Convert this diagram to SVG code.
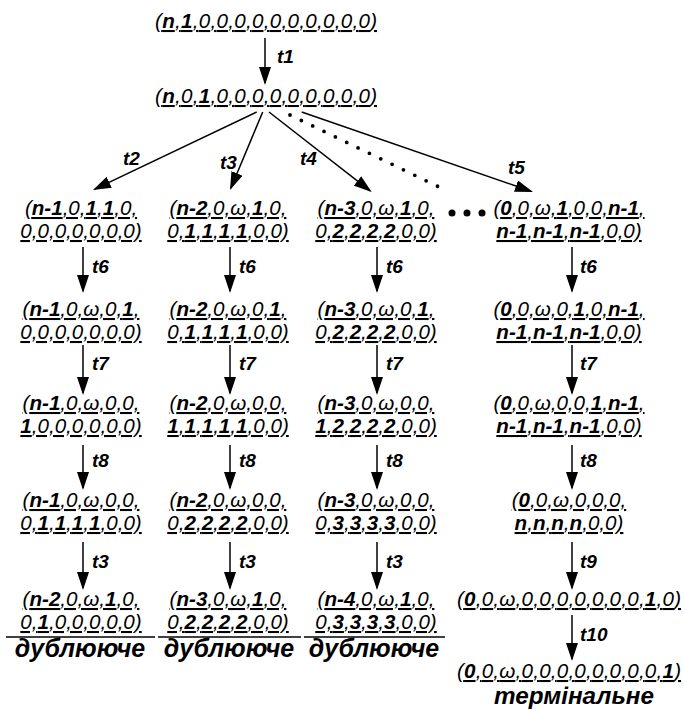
<svg xmlns="http://www.w3.org/2000/svg" width="684" height="710" viewBox="0 0 684 710">
<style>
.n{font-family:"Liberation Sans",Arial,sans-serif;font-style:italic;font-size:20.6px;text-anchor:middle;text-decoration:underline;fill:#000}
.b{font-weight:bold}
.l{font-family:"Liberation Sans",Arial,sans-serif;font-style:italic;font-weight:bold;font-size:19px;fill:#000}
.tag{font-family:"Liberation Sans",Arial,sans-serif;font-style:italic;font-weight:bold;font-size:25px;text-anchor:middle;fill:#000}
.c{stroke:#000;stroke-width:1.5;fill:none;marker-end:url(#ah)}
.sep{stroke:#000;stroke-width:1.5}
</style>
<defs>
<marker id="ah" viewBox="0 0 18 12" refX="16" refY="6" markerWidth="18" markerHeight="12" orient="auto" markerUnits="userSpaceOnUse">
<path d="M0,0 L18,6 L0,12 z" fill="#000"/>
</marker>
</defs>
<rect width="684" height="710" fill="#fff"/>

<g id="connectors">
<line class="c" x1="265" y1="38" x2="265" y2="83"/>
<line class="c" x1="256.7" y1="112" x2="94.8" y2="189.1"/>
<line class="c" x1="262.7" y1="112" x2="230.8" y2="188.2"/>
<line class="c" x1="269" y1="112" x2="370.1" y2="190.8"/>
<line class="c" x1="301.7" y1="112" x2="531.1" y2="191.3"/>
<line x1="290" y1="115" x2="441.7" y2="188.3" stroke="#000" stroke-width="3.8" stroke-linecap="round" stroke-dasharray="0 12.6"/>
<g id="dots" fill="#000"><circle cx="452" cy="213" r="3.5"/><circle cx="467" cy="213" r="3.5"/><circle cx="482" cy="213" r="3.5"/></g>
<line class="c" x1="83" y1="247" x2="83" y2="291"/>
<line class="c" x1="83" y1="345" x2="83" y2="393"/>
<line class="c" x1="83" y1="445" x2="83" y2="488"/>
<line class="c" x1="83" y1="542" x2="83" y2="588"/>
<line class="c" x1="230" y1="247" x2="230" y2="291"/>
<line class="c" x1="230" y1="345" x2="230" y2="393"/>
<line class="c" x1="230" y1="445" x2="230" y2="488"/>
<line class="c" x1="230" y1="542" x2="230" y2="588"/>
<line class="c" x1="377" y1="247" x2="377" y2="291"/>
<line class="c" x1="377" y1="345" x2="377" y2="393"/>
<line class="c" x1="377" y1="445" x2="377" y2="488"/>
<line class="c" x1="377" y1="542" x2="377" y2="588"/>
<line class="c" x1="572" y1="247" x2="572" y2="291"/>
<line class="c" x1="572" y1="345" x2="572" y2="393"/>
<line class="c" x1="572" y1="445" x2="572" y2="488"/>
<line class="c" x1="572" y1="542" x2="572" y2="588"/>
<line class="c" x1="572" y1="615" x2="572" y2="659"/>
<text class="l" x="277" y="63">t1</text>
<text class="l" x="123" y="165">t2</text>
<text class="l" x="220" y="169">t3</text>
<text class="l" x="300" y="165">t4</text>
<text class="l" x="508" y="174">t5</text>
<text class="l" x="92" y="273">t6</text>
<text class="l" x="239" y="273">t6</text>
<text class="l" x="386" y="273">t6</text>
<text class="l" x="580" y="273">t6</text>
<text class="l" x="92" y="370">t7</text>
<text class="l" x="239" y="370">t7</text>
<text class="l" x="386" y="370">t7</text>
<text class="l" x="580" y="370">t7</text>
<text class="l" x="92" y="467">t8</text>
<text class="l" x="239" y="467">t8</text>
<text class="l" x="386" y="467">t8</text>
<text class="l" x="580" y="467">t8</text>
<text class="l" x="92" y="568">t3</text>
<text class="l" x="239" y="568">t3</text>
<text class="l" x="386" y="568">t3</text>
<text class="l" x="580" y="568">t9</text>
<text class="l" x="580" y="641">t10</text>
</g>

<g id="s0"><text class="n" x="266" y="28" textLength="222">(<tspan class="b">n</tspan>,<tspan class="b">1</tspan>,0,0,0,0,0,0,0,0,0,0)</text></g>
<g id="s1"><text class="n" x="266" y="103" textLength="222">(<tspan class="b">n</tspan>,0,<tspan class="b">1</tspan>,0,0,0,0,0,0,0,0,0)</text></g>

<g id="c1r1"><text class="n"><tspan x="81" y="215">(<tspan class="b">n-1</tspan>,0,<tspan class="b">1</tspan>,<tspan class="b">1</tspan>,0,</tspan><tspan x="81" y="238">0,0,0,0,0,0,0)</tspan></text></g>
<g id="c1r2"><text class="n"><tspan x="81" y="316">(<tspan class="b">n-1</tspan>,0,ω,0,<tspan class="b">1</tspan>,</tspan><tspan x="81" y="339">0,0,0,0,0,0,0)</tspan></text></g>
<g id="c1r3"><text class="n"><tspan x="81" y="410">(<tspan class="b">n-1</tspan>,0,ω,0,0,</tspan><tspan x="81" y="433"><tspan class="b">1</tspan>,0,0,0,0,0,0)</tspan></text></g>
<g id="c1r4"><text class="n"><tspan x="81" y="507">(<tspan class="b">n-1</tspan>,0,ω,0,0,</tspan><tspan x="81" y="530">0,<tspan class="b">1</tspan>,<tspan class="b">1</tspan>,<tspan class="b">1</tspan>,<tspan class="b">1</tspan>,0,0)</tspan></text></g>
<g id="c1r5"><text class="n"><tspan x="81" y="606">(<tspan class="b">n-2</tspan>,0,ω,<tspan class="b">1</tspan>,0,</tspan><tspan x="81" y="629">0,<tspan class="b">1</tspan>,0,0,0,0,0)</tspan></text><line class="sep" x1="6" y1="637" x2="155" y2="637"/><text class="tag" x="80" y="657">дублююче</text></g>

<g id="c2r1"><text class="n"><tspan x="228" y="215">(<tspan class="b">n-2</tspan>,0,ω,<tspan class="b">1</tspan>,0,</tspan><tspan x="228" y="238">0,<tspan class="b">1</tspan>,<tspan class="b">1</tspan>,<tspan class="b">1</tspan>,<tspan class="b">1</tspan>,0,0)</tspan></text></g>
<g id="c2r2"><text class="n"><tspan x="228" y="316">(<tspan class="b">n-2</tspan>,0,ω,0,<tspan class="b">1</tspan>,</tspan><tspan x="228" y="339">0,<tspan class="b">1</tspan>,<tspan class="b">1</tspan>,<tspan class="b">1</tspan>,<tspan class="b">1</tspan>,0,0)</tspan></text></g>
<g id="c2r3"><text class="n"><tspan x="228" y="410">(<tspan class="b">n-2</tspan>,0,ω,0,0,</tspan><tspan x="228" y="433"><tspan class="b">1</tspan>,<tspan class="b">1</tspan>,<tspan class="b">1</tspan>,<tspan class="b">1</tspan>,<tspan class="b">1</tspan>,0,0)</tspan></text></g>
<g id="c2r4"><text class="n"><tspan x="228" y="507">(<tspan class="b">n-2</tspan>,0,ω,0,0,</tspan><tspan x="228" y="530">0,<tspan class="b">2</tspan>,<tspan class="b">2</tspan>,<tspan class="b">2</tspan>,<tspan class="b">2</tspan>,0,0)</tspan></text></g>
<g id="c2r5"><text class="n"><tspan x="228" y="606">(<tspan class="b">n-3</tspan>,0,ω,<tspan class="b">1</tspan>,0,</tspan><tspan x="228" y="629">0,<tspan class="b">2</tspan>,<tspan class="b">2</tspan>,<tspan class="b">2</tspan>,<tspan class="b">2</tspan>,0,0)</tspan></text><line class="sep" x1="158" y1="637" x2="301" y2="637"/><text class="tag" x="229" y="657">дублююче</text></g>

<g id="c3r1"><text class="n"><tspan x="376" y="215">(<tspan class="b">n-3</tspan>,0,ω,<tspan class="b">1</tspan>,0,</tspan><tspan x="376" y="238">0,<tspan class="b">2</tspan>,<tspan class="b">2</tspan>,<tspan class="b">2</tspan>,<tspan class="b">2</tspan>,0,0)</tspan></text></g>
<g id="c3r2"><text class="n"><tspan x="376" y="316">(<tspan class="b">n-3</tspan>,0,ω,0,<tspan class="b">1</tspan>,</tspan><tspan x="376" y="339">0,<tspan class="b">2</tspan>,<tspan class="b">2</tspan>,<tspan class="b">2</tspan>,<tspan class="b">2</tspan>,0,0)</tspan></text></g>
<g id="c3r3"><text class="n"><tspan x="376" y="410">(<tspan class="b">n-3</tspan>,0,ω,0,0,</tspan><tspan x="376" y="433"><tspan class="b">1</tspan>,<tspan class="b">2</tspan>,<tspan class="b">2</tspan>,<tspan class="b">2</tspan>,<tspan class="b">2</tspan>,0,0)</tspan></text></g>
<g id="c3r4"><text class="n"><tspan x="376" y="507">(<tspan class="b">n-3</tspan>,0,ω,0,0,</tspan><tspan x="376" y="530">0,<tspan class="b">3</tspan>,<tspan class="b">3</tspan>,<tspan class="b">3</tspan>,<tspan class="b">3</tspan>,0,0)</tspan></text></g>
<g id="c3r5"><text class="n"><tspan x="376" y="606">(<tspan class="b">n-4</tspan>,0,ω,<tspan class="b">1</tspan>,0,</tspan><tspan x="376" y="629">0,<tspan class="b">3</tspan>,<tspan class="b">3</tspan>,<tspan class="b">3</tspan>,<tspan class="b">3</tspan>,0,0)</tspan></text><line class="sep" x1="304" y1="637" x2="445" y2="637"/><text class="tag" x="374" y="657">дублююче</text></g>

<g id="c4r1"><text class="n"><tspan x="569" y="215">(<tspan class="b">0</tspan>,0,ω,<tspan class="b">1</tspan>,0,0,<tspan class="b">n-1</tspan>,</tspan><tspan x="569" y="238"><tspan class="b">n-1</tspan>,<tspan class="b">n-1</tspan>,<tspan class="b">n-1</tspan>,0,0)</tspan></text></g>
<g id="c4r2"><text class="n"><tspan x="569" y="316">(<tspan class="b">0</tspan>,0,ω,0,<tspan class="b">1</tspan>,0,<tspan class="b">n-1</tspan>,</tspan><tspan x="569" y="339"><tspan class="b">n-1</tspan>,<tspan class="b">n-1</tspan>,<tspan class="b">n-1</tspan>,0,0)</tspan></text></g>
<g id="c4r3"><text class="n"><tspan x="569" y="410">(<tspan class="b">0</tspan>,0,ω,0,0,<tspan class="b">1</tspan>,<tspan class="b">n-1</tspan>,</tspan><tspan x="569" y="433"><tspan class="b">n-1</tspan>,<tspan class="b">n-1</tspan>,<tspan class="b">n-1</tspan>,0,0)</tspan></text></g>
<g id="c4r4"><text class="n"><tspan x="569" y="507">(<tspan class="b">0</tspan>,0,ω,0,0,0,</tspan><tspan x="569" y="530"><tspan class="b">n</tspan>,<tspan class="b">n</tspan>,<tspan class="b">n</tspan>,<tspan class="b">n</tspan>,0,0)</tspan></text></g>
<g id="c4r5"><text class="n" x="569" y="606" textLength="224">(<tspan class="b">0</tspan>,0,ω,0,0,0,0,0,0,0,<tspan class="b">1</tspan>,0)</text></g>
<g id="c4r6"><text class="n" x="569" y="678" textLength="224">(<tspan class="b">0</tspan>,0,ω,0,0,0,0,0,0,0,0,<tspan class="b">1</tspan>)</text><text class="tag" x="574" y="704" style="font-size:23.5px" textLength="160" lengthAdjust="spacingAndGlyphs">термінальне</text></g>
</svg>
